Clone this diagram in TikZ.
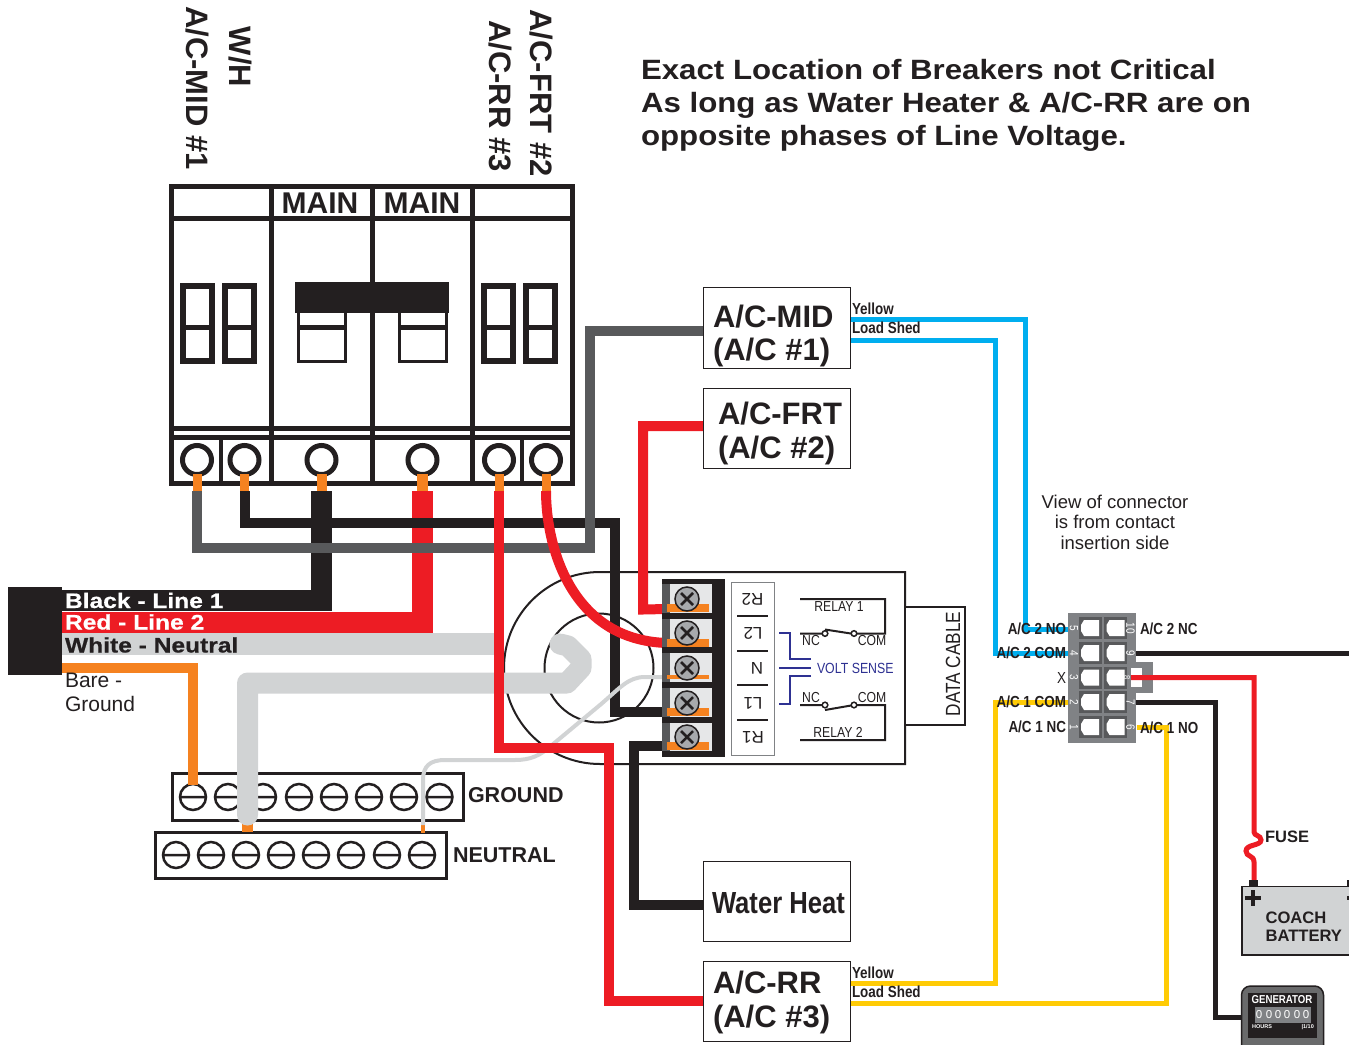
\documentclass[tikz,border=0pt]{standalone}
\usepackage{fontspec}
\setmainfont{Liberation Sans}
\newfontfamily\narrowf[FakeStretch=0.84]{Liberation Sans}
\newfontfamily\widef[FakeStretch=1.12]{Liberation Sans}
\newfontfamily\heavyf[FakeStretch=1.17,BoldFeatures={FakeBold=0.6}]{Liberation Sans}
\newcommand\pxf[1]{\fontsize{#1}{#1}\selectfont}
\definecolor{ink}{HTML}{231F20}
\definecolor{wred}{HTML}{ED1C24}
\definecolor{worange}{HTML}{F58220}
\definecolor{wgray}{HTML}{58595B}
\definecolor{wlight}{HTML}{D1D3D4}
\definecolor{wblue}{HTML}{00AEEF}
\definecolor{wyellow}{HTML}{FFCB05}
\definecolor{vsense}{HTML}{2E3192}
\definecolor{conn}{HTML}{808285}
\definecolor{cellc}{HTML}{E6E7E8}
\definecolor{screwc}{HTML}{A7A9AC}
\tikzset{
  txt/.style={inner sep=0pt,outer sep=0pt,text=ink},
  ltxt/.style={txt,anchor=west},
  rtxt/.style={txt,anchor=east},
  toplabel/.style={txt,rotate=-90,font=\pxf{31}\bfseries},
  boxlabel/.style={ltxt,font=\pxf{31}\bfseries},
  unit/.style={draw=ink,line width=1pt,fill=white},
  shedlabel/.style={ltxt,font=\narrowf\pxf{16}\bfseries},
  pinlabel/.style={txt,font=\narrowf\pxf{16}\bfseries},
  pinnum/.style={inner sep=0pt,outer sep=0pt,text=white,rotate=-90,font=\narrowf\pxf{12}},
  relaytxt/.style={txt,font=\narrowf\pxf{14.5}},
  termtxt/.style={txt,rotate=180,font=\pxf{17}},
  wirelab/.style={ltxt,font=\heavyf\pxf{21}\bfseries},
  wire/.style={line width=10pt,miter limit=10},
  thin wire/.style={line width=5pt,miter limit=10},
  frame/.style={draw=ink,line width=5pt},
  digit/.style={draw=ink,line width=6pt},
  screwbar/.style={draw=ink,line width=3pt,fill=white},
  lug/.style={draw=ink,line width=2.5pt},
}
\begin{document}
\begin{tikzpicture}[x=1pt,y=-1pt]
\useasboundingbox (0,0) rectangle (1349,1044);
\clip (0,0) rectangle (1349,1044);
% named terminals
\coordinate (b1) at (197,491); \coordinate (b2) at (244.5,491); \coordinate (b3) at (321.5,491);
\coordinate (b4) at (422.5,491); \coordinate (b5) at (499,491); \coordinate (b6) at (546,491);
\coordinate (tR2) at (667,609); \coordinate (tL2) at (667,643); \coordinate (tN) at (667,677);
\coordinate (tL1) at (667,712); \coordinate (tR1) at (667,746);
\coordinate (pin5) at (1068,629); \coordinate (pin4) at (1068,653); \coordinate (pin2) at (1068,702);
\coordinate (pin6) at (1137,727); \coordinate (pin9) at (1136,653); \coordinate (pin8) at (1131,677.5); \coordinate (pin7) at (1136,702);
\coordinate (edgeR) at (1349,653);
\coordinate (gnd) at (192.5,785); \coordinate (neu1) at (247.5,815); \coordinate (neu2) at (423,825);
\coordinate (cable) at (62,600.5); 

% breaker panel
\draw[frame] (171,186) rectangle (572,483.5);
\draw[frame] (171,218) -- (572,218) (171,428) -- (572,428);
\draw[frame] (171,437) -- (572,437);
\foreach \x in {271,372,472} \draw[frame] (\x,186) -- (\x,484);
\draw[ink,line width=3.5pt] (221,437) -- (221,484) (522,437) -- (522,484);
\node[txt,font=\pxf{30}\bfseries] (mainA) at (320,203) {MAIN};
\node[txt,font=\pxf{30}\bfseries] (mainB) at (422,203) {MAIN};
\foreach \x in {183,225,484,526} {
  \draw[digit] (\x,286) rectangle ++(29,75);
  \draw[ink,line width=5pt] (\x,327) -- ++(29,0);
}
\foreach \x in {298,399} {
  \draw[ink,line width=3pt,fill=white] (\x,310) rectangle ++(47,51.5);
  \draw[ink,line width=5pt] (\x,327) -- ++(47,0);
}
\fill[ink] (295,282) rectangle (449,313);
\foreach \x/\w in {197/9,244.5/9,321.5/10,422.5/11,499/9,546/9} {
  \draw[ink,line width=5pt,fill=white] (\x,460) circle[radius=14.5pt];
  \fill[worange] (\x-\w/2,474) rectangle (\x+\w/2,492);
}

% device body
\fill[white] (600,572) arc[start angle=90,end angle=270,radius=96pt] -- (905,764) -- (905,572) -- cycle;
\draw[ink,line width=2pt] (600,572) arc[start angle=90,end angle=270,radius=96pt] -- (905,764) -- (905,572) -- cycle;
\draw[ink,line width=2pt] (599,668) circle[radius=54.5pt];
\draw[ink,line width=2pt,fill=white] (905,607) rectangle (964.5,724.5);
\node[txt,rotate=90,font=\narrowf\pxf{20.5}] (datacable) at (953,664) {DATA CABLE};

% neutral and ground bars
\draw[screwbar] (172.5,773.5) rectangle (463.5,820);
\draw[screwbar] (155,832) rectangle (446,878);
\foreach \x in {193,228,263,299,334,369,404,439.5} {
  \draw[lug] (\x,797) circle[radius=13pt] (\x-13,797) -- (\x+13,797);
}
\foreach \x in {176,211,246,281,316,351,387,422} {
  \draw[lug] (\x,855) circle[radius=13pt] (\x-13,855) -- (\x+13,855);
}
\node[ltxt,font=\pxf{21.5}\bfseries] (groundlabel) at (468,795) {GROUND};
\node[ltxt,font=\pxf{21.5}\bfseries] (neutrallabel) at (453,855) {NEUTRAL};
\fill[worange] (242,822) rectangle (253,832);
\fill[worange] (421,822) rectangle (425,833);

% main feeders
\draw[ink,line width=21pt,miter limit=10] (b3) -- (321.5,600.5) -- (cable);
\draw[wred,line width=21pt,miter limit=10] (b4) -- (422.5,622) -- (62,622);
\draw[wlight,line width=22pt] (62,644) -- (500,644);
\draw[wlight,line width=21pt,line join=round,line cap=round] (560,644) -- (568,646) -- (581,659) -- (581,668) -- (567,683) -- (247.5,683) -- (neu1);
\draw[worange,wire] (62,667.5) -- (192.5,667.5) -- (gnd);

% branch wires
\draw[ink,wire] (b2) -- (244.5,523) -- (615,523) -- (615,712) -- (tL1);
\draw[wgray,wire] (b1) -- (197,548) -- (590,548) -- (590,331) -- (703,331);
\draw[wlight,line width=4pt] (tN) -- (645,677) .. controls (628,677) and (620,688) .. (600,705) -- (552,745) .. controls (540,756) and (530,760) .. (515,760) -- (445,760) .. controls (430,760) and (423,766) .. (423,780) -- (neu2);
\draw[wred,wire] (703,426) -- (643,426) -- (643,609.5) -- (tR2);
\draw[wred,wire] (b6) .. controls (546,545) and (570,640) .. (tL2);
\draw[wred,wire] (b5) -- (499,748) -- (609,748) -- (609,1001) -- (703,1001);
\draw[ink,wire] (tR1) -- (633.5,746) -- (633.5,905) -- (703,905);

% terminal block
\fill[ink] (662,579) rectangle (725,757);
\foreach \top/\bot/\cy/\oa/\ob in {584/613/599/604/612,619/647/633/639/647,653/682/668/675/679,688/717/703/708/716,723/751/737/742/750} {
  \fill[wgray] (662,\top) rectangle (670,\bot);
  \fill[cellc] (670,\top) rectangle (712,\bot);
  \fill[worange] (667,\oa) rectangle (709,\ob);
  \draw[ink,line width=1.5pt,fill=screwc] (687,\cy) circle[radius=12pt];
  \draw[ink,line width=2.5pt] (681,\cy-6) -- (693,\cy+6) (681,\cy+6) -- (693,\cy-6);
}
\draw[conn,line width=1pt,fill=white] (731.5,582) rectangle (774,755);
\foreach \y in {616,651,685,720} \draw[ink,line width=2pt] (737,\y) -- (768,\y);
\node[termtxt] (R2) at (752.5,599) {R2};
\node[termtxt] (L2) at (753,633) {L2};
\node[termtxt] (Nt) at (757,668) {N};
\node[termtxt] (L1) at (753,703) {L1};
\node[termtxt] (R1) at (753,737) {R1};

% relays
\draw[ink,line width=2pt] (800,599) -- (885,599) -- (885,633.5) -- (854,633.5) (800,633.5) -- (825,633.5) (825,629.5) -- (854,634);
\draw[ink,line width=2pt] (800,740) -- (885,740) -- (885,705) -- (854,705) (800,705) -- (825,705) (825,710) -- (854,705);
\foreach \x/\y in {825/633.5,854/633.5,825/705,854/705} \draw[ink,line width=1.5pt,fill=white] (\x,\y) circle[radius=2.8pt];
\node[relaytxt] (relay1) at (839,607) {RELAY 1};
\node[relaytxt] (nc1) at (811,641) {NC};
\node[relaytxt] (com1) at (872,641) {COM};
\node[relaytxt] (relay2) at (838,732) {RELAY 2};
\node[relaytxt] (nc2) at (811,697) {NC};
\node[relaytxt] (com2) at (872,697) {COM};
\draw[vsense,line width=2.5pt] (779,633) -- (790,633) -- (790,659) -- (811,659) (779,668) -- (811,668) (811,676) -- (790,676) -- (790,704) -- (779,704);
\node[ltxt,text=vsense,font=\narrowf\pxf{14.7}] (volt) at (817,668) {VOLT SENSE};

% load wires
\draw[wblue,thin wire] (850,319) -- (1025.5,319) -- (1025.5,629) -- (pin5);
\draw[wblue,thin wire] (850,340) -- (995.5,340) -- (995.5,653) -- (pin4);
\draw[wyellow,thin wire] (850,983) -- (995.5,983) -- (995.5,702) -- (pin2);
\draw[wyellow,thin wire] (850,1003) -- (1166.5,1003) -- (1166.5,727) -- (pin6);
\draw[ink,thin wire] (pin9) -- (edgeR);
\draw[ink,thin wire] (pin7) -- (1215,702) -- (1215,1017) -- (1245,1017);

% unit boxes
\node[unit,minimum width=147pt,minimum height=81pt,inner sep=0pt] (midbox) at (776.5,327.5) {};
\node[boxlabel] (mid1) at (713,317) {A/C-MID};
\node[boxlabel] (mid2) at (713,352) {(A/C \#1)};
\node[unit,minimum width=147pt,minimum height=80pt,inner sep=0pt] (frtbox) at (776.5,428) {};
\node[boxlabel] (frt1) at (718,414) {A/C-FRT};
\node[boxlabel] (frt2) at (718,450) {(A/C \#2)};
\node[unit,minimum width=147pt,minimum height=80pt,inner sep=0pt] (whbox) at (776.5,901) {};
\node[ltxt,font=\narrowf\pxf{30.5}\bfseries] (wh) at (712,903) {Water Heat};
\node[unit,minimum width=147pt,minimum height=80pt,inner sep=0pt] (rrbox) at (776.5,1001) {};
\node[boxlabel] (rr1) at (713,983) {A/C-RR};
\node[boxlabel] (rr2) at (713,1019) {(A/C \#3)};
\node[shedlabel] (y1) at (852,309) {Yellow};
\node[shedlabel] (l1) at (852,328) {Load Shed};
\node[shedlabel] (y2) at (852,973) {Yellow};
\node[shedlabel] (l2) at (852,992) {Load Shed};

% cable block and wire labels
\fill[ink] (8,587) rectangle (62,675);
\node[wirelab,text=white] (blackline) at (65,600.5) {Black - Line 1};
\node[wirelab,text=white] (redline) at (65,622) {Red - Line 2};
\node[wirelab] (whiteline) at (65,645) {White - Neutral};
\node[ltxt,font=\fontsize{21}{24}\selectfont,align=left] (bare) at (65,692) {Bare -\\Ground};

% connector
\fill[conn] (1068,613) rectangle (1136,743);
\fill[conn] (1128,662) rectangle (1153,693);
\fill[white] (1131,668) rectangle (1142,687);
\foreach \cy in {628,653,677.5,702,727} {
  \foreach \cx in {1090,1115.5} {
    \fill[wgray] (\cx-11.5,\cy-11) rectangle (\cx+11.5,\cy+11);
    \fill[white] (\cx-9,\cy-3) -- (\cx-6,\cy-8) -- (\cx+9,\cy-8) -- (\cx+9,\cy+8) -- (\cx-6,\cy+8) -- (\cx-9,\cy+3) -- cycle;
  }
}
\draw[wred,thin wire] (pin8) -- (1254,677.5) -- (1254,832) .. controls (1254,836) and (1261,835) .. (1261,840) .. controls (1261,846) and (1246,844) .. (1246,851) .. controls (1246,857) and (1254,855) .. (1254,862) -- (1254,881);
\node[pinnum] (n5) at (1074,628) {5};
\node[pinnum] (n4) at (1074,653) {4};
\node[pinnum] (n3) at (1074,677.5) {3};
\node[pinnum] (n2) at (1074,702) {2};
\node[pinnum] (n1) at (1074,727) {1};
\node[pinnum] (n10) at (1130.5,628) {10};
\node[pinnum] (n9) at (1130.5,653) {9};
\node[pinnum,font=\narrowf\pxf{9}] (n8) at (1127,677.5) {8};
\node[pinnum] (n7) at (1130.5,702) {7};
\node[pinnum] (n6) at (1130.5,727) {6};
\node[pinlabel,anchor=east] (p5) at (1066,628.5) {A/C 2 NO};
\node[pinlabel,anchor=east] (p4) at (1066,653) {A/C 2 COM};
\node[pinlabel,anchor=east,font=\narrowf\pxf{16}] (p3) at (1066,677.5) {X};
\node[pinlabel,anchor=east] (p2) at (1066,702) {A/C 1 COM};
\node[pinlabel,anchor=east] (p1) at (1066,727) {A/C 1 NC};
\node[pinlabel,anchor=west] (p10) at (1140,628.5) {A/C 2 NC};
\node[pinlabel,anchor=west] (p6) at (1140,727.5) {A/C 1 NO};

\node[txt,font=\fontsize{18.5}{20.5}\selectfont,align=center] (view) at (1115,522) {View of connector\\is from contact\\insertion side};

% battery
\fill[ink] (1249,880) rectangle (1258,888);
\fill[ink] (1347,880) rectangle (1352,888);
\draw[ink,line width=1.2pt,fill=wlight] (1242,886.5) rectangle (1360,955);
\fill[ink] (1245,895.5) rectangle (1261,899.5);
\fill[ink] (1251,889.5) rectangle (1255,905.5);
\fill[ink] (1347,895.5) rectangle (1352,899.5);
\node[ltxt,font=\fontsize{16.6}{18}\selectfont\bfseries,align=left] (batt) at (1265.5,927) {COACH\\BATTERY};
\node[ltxt,font=\pxf{16.5}\bfseries] (fuse) at (1265,836.5) {FUSE};

% generator
\draw[ink,line width=1.5pt,fill=wgray!90!white,rounded corners=9pt] (1241.5,986) rectangle (1323.5,1060);
\fill[ink] (1248,993) rectangle (1317,1038);
\fill[conn] (1255,1007) rectangle (1311,1023);
\node[inner sep=0pt,text=white,font=\narrowf\pxf{11.5}\bfseries] (gen) at (1282,1000) {GENERATOR};
\foreach \i/\x in {1/1259,2/1269,3/1278,4/1287,5/1297,6/1306} \node[inner sep=0pt,text=white,font=\pxf{11.5}] (d\i) at (\x,1015) {0};
\node[anchor=west,inner sep=0pt,text=white,font=\pxf{5.5}\bfseries] (hours) at (1252,1027) {HOURS};
\node[anchor=east,inner sep=0pt,text=white,font=\pxf{5.5}\bfseries] (tenth) at (1314,1027) {|1/10};

% top labels
\node[toplabel] (tmid) at (197.5,88) {A/C-MID \#1};
\node[toplabel] (twh) at (240,57) {W/H};
\node[toplabel] (trr) at (500,96) {A/C-RR \#3};
\node[toplabel] (tfrt) at (541,93) {A/C-FRT \#2};
\node[ltxt,font=\widef\fontsize{27.9}{32.7}\selectfont\bfseries,align=left] (headline) at (641,105.5) {Exact Location of Breakers not Critical\\As long as Water Heater \& A/C-RR are on\\opposite phases of Line Voltage.};
\end{tikzpicture}
\end{document}
